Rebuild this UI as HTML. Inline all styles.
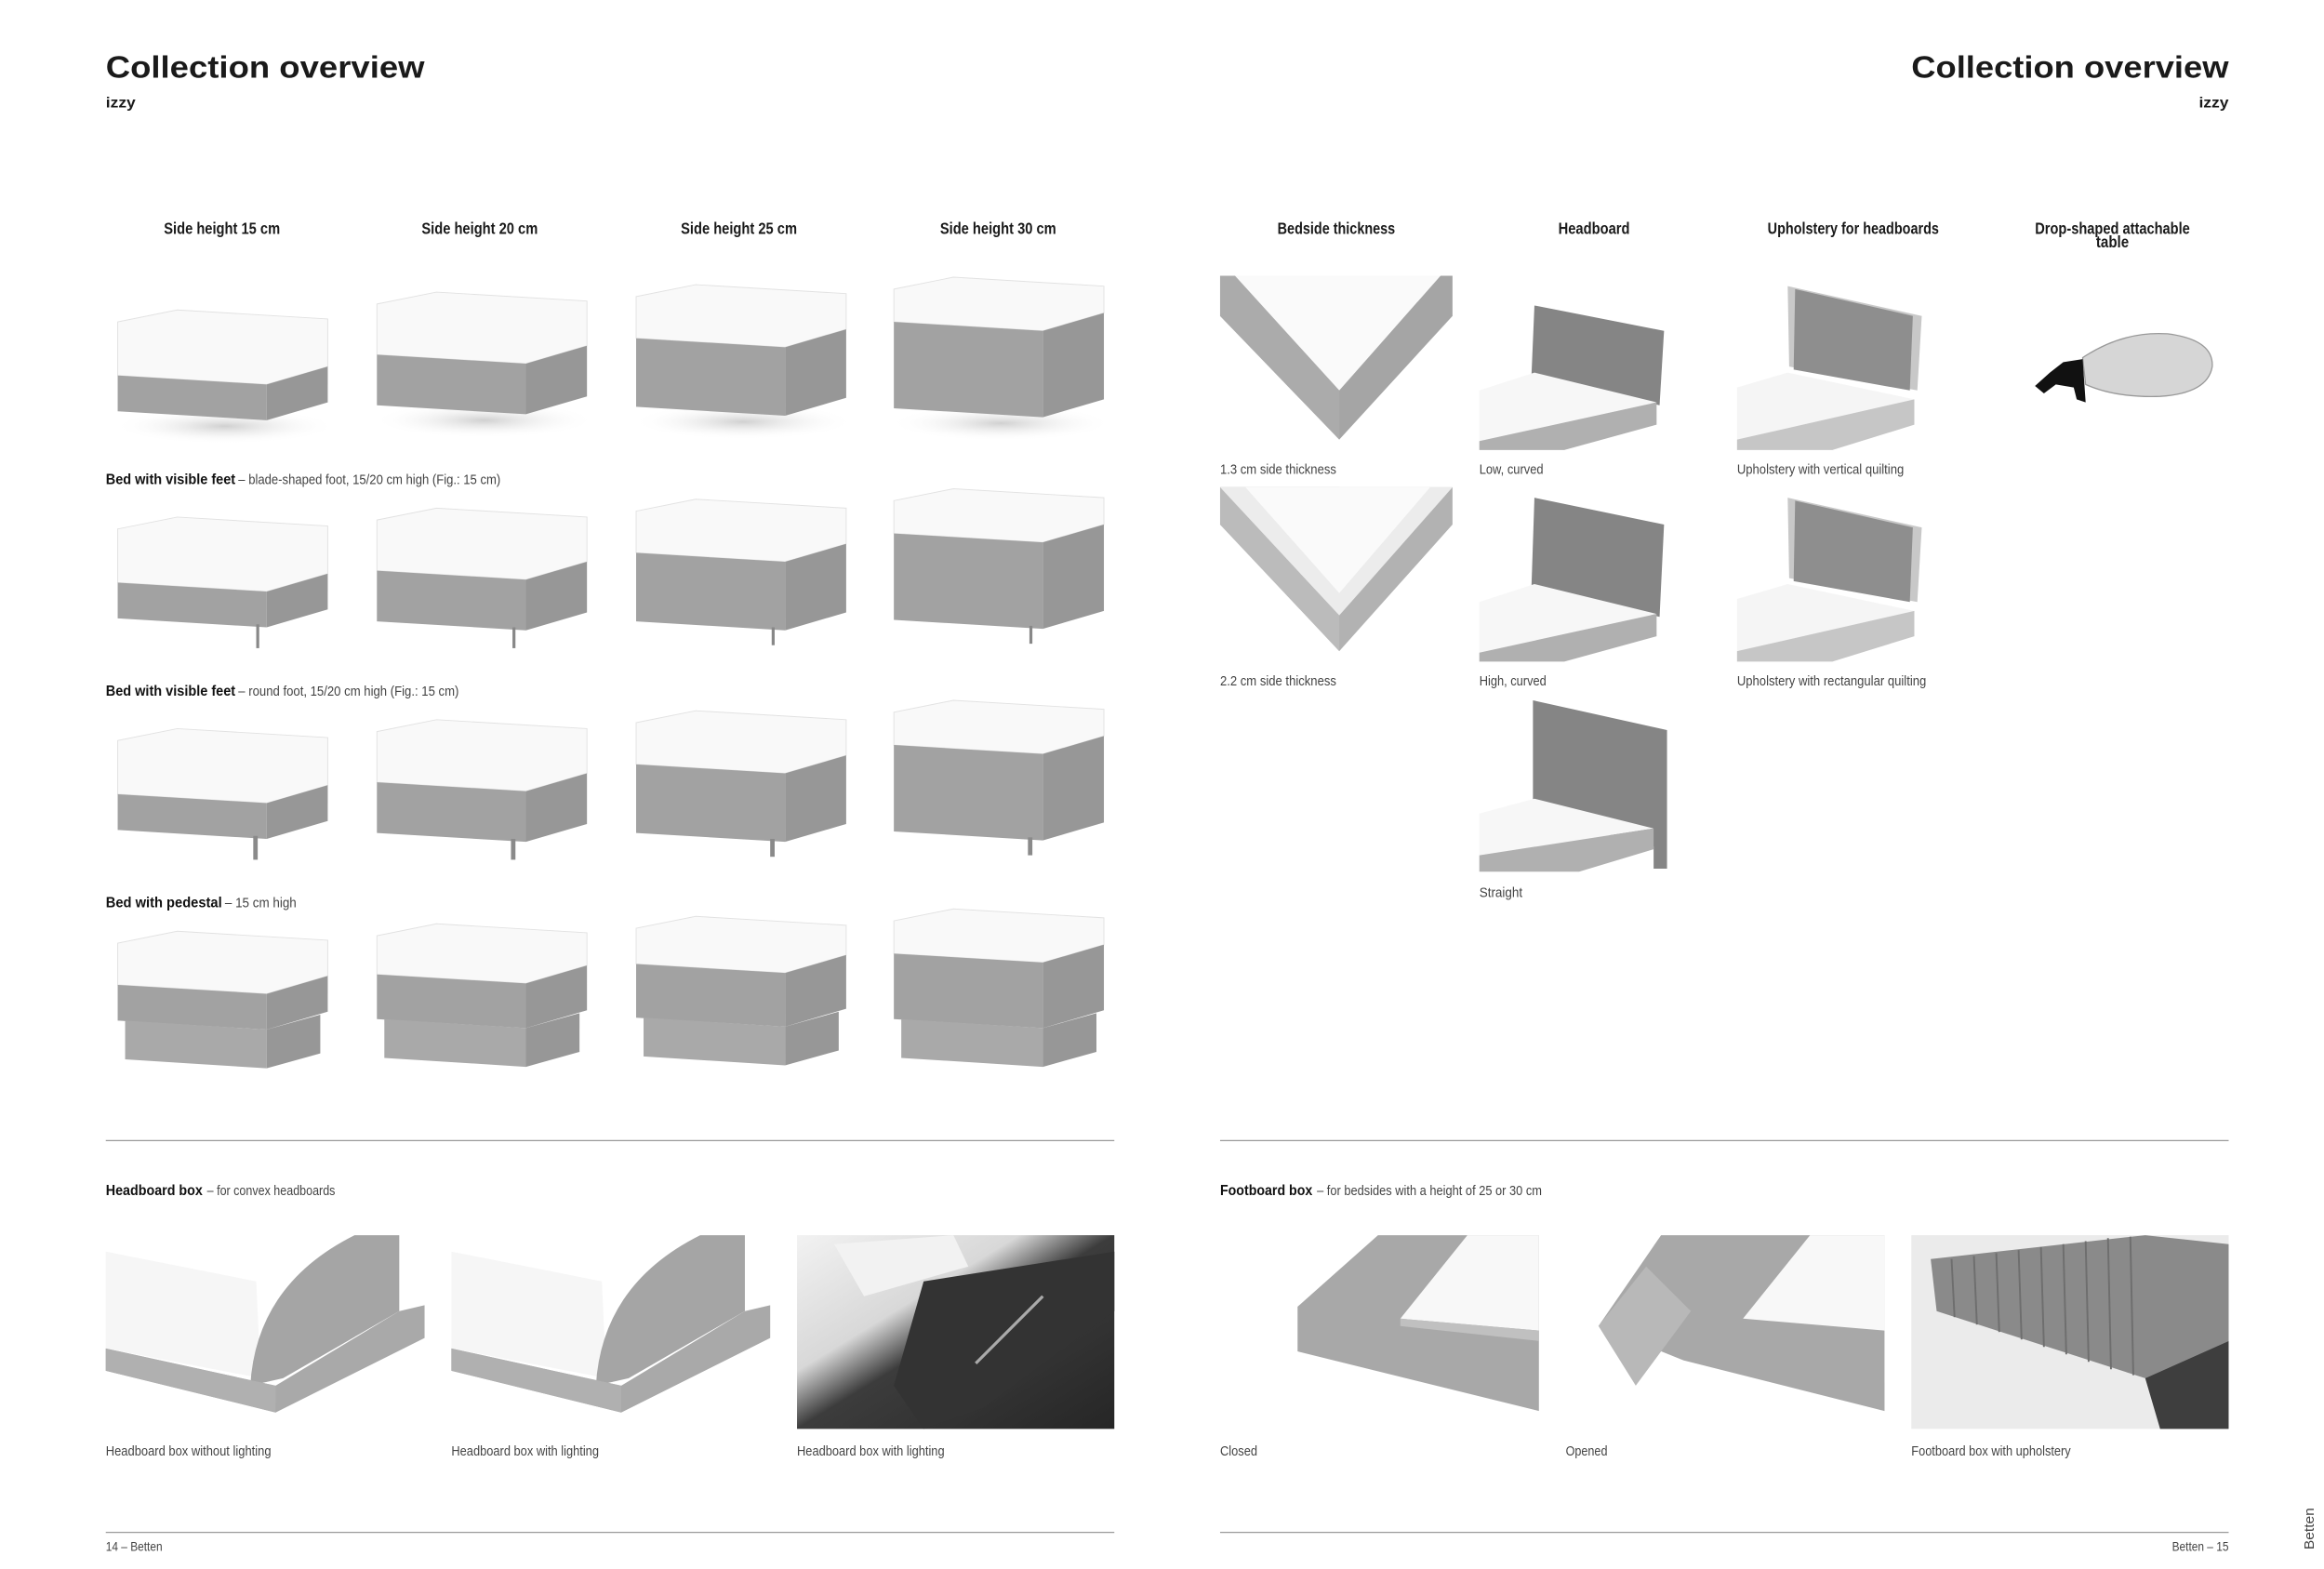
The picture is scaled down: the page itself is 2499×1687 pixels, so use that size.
<!DOCTYPE html>
<html><head><meta charset="utf-8"><style>
html,body{margin:0;padding:0;background:#fff;width:2499px;height:1687px;overflow:hidden}
svg{display:block}
text{font-family:"Liberation Sans Narrow","Liberation Sans",sans-serif;fill:#1a1a1a}
.h{font-size:11px;font-weight:bold;text-anchor:middle}
.c{font-size:9px;fill:#444}
.b{font-size:10px;font-weight:bold;fill:#111}
.w{fill:#f9f9f9;stroke:#e2e2e2;stroke-width:.6}
.g{fill:#a2a2a2}.gr{fill:#979797}.pl{fill:#a9a9a9}
</style></head><body>
<svg width="2499" height="1687" viewBox="0 0 1560 1053" xmlns="http://www.w3.org/2000/svg">
<defs>
<radialGradient id="sh"><stop offset="0" stop-color="#d0d0d0"/><stop offset="1" stop-color="#fff" stop-opacity="0"/></radialGradient>
<linearGradient id="ph" x1="0" y1="0" x2="1" y2="1"><stop offset="0" stop-color="#f2f2f2"/><stop offset=".35" stop-color="#d8d8d8"/><stop offset=".5" stop-color="#3c3c3c"/><stop offset="1" stop-color="#262626"/></linearGradient>
</defs>
<!-- titles -->
<text x="71" y="52" textLength="214" lengthAdjust="spacingAndGlyphs" style="font-family:'Liberation Sans',sans-serif;font-size:21px;font-weight:bold">Collection overview</text>
<text x="71" y="72" textLength="20" lengthAdjust="spacingAndGlyphs" style="font-family:'Liberation Sans',sans-serif;font-size:10px;font-weight:bold">izzy</text>
<text x="1283" y="52" textLength="213" lengthAdjust="spacingAndGlyphs" style="font-family:'Liberation Sans',sans-serif;font-size:21px;font-weight:bold">Collection overview</text>
<text x="1476" y="72" textLength="20" lengthAdjust="spacingAndGlyphs" style="font-family:'Liberation Sans',sans-serif;font-size:10px;font-weight:bold">izzy</text>
<!-- headers -->
<text class="h" x="149" y="157" textLength="78" lengthAdjust="spacingAndGlyphs">Side height 15 cm</text>
<text class="h" x="322" y="157" textLength="78" lengthAdjust="spacingAndGlyphs">Side height 20 cm</text>
<text class="h" x="496" y="157" textLength="78" lengthAdjust="spacingAndGlyphs">Side height 25 cm</text>
<text class="h" x="670" y="157" textLength="78" lengthAdjust="spacingAndGlyphs">Side height 30 cm</text>
<text class="h" x="897" y="157" textLength="79" lengthAdjust="spacingAndGlyphs">Bedside thickness</text>
<text class="h" x="1070" y="157" textLength="48" lengthAdjust="spacingAndGlyphs">Headboard</text>
<text class="h" x="1244" y="157" textLength="115" lengthAdjust="spacingAndGlyphs">Upholstery for headboards</text>
<text class="h" x="1418" y="157" textLength="104" lengthAdjust="spacingAndGlyphs">Drop-shaped attachable</text>
<text class="h" x="1418" y="166" textLength="22" lengthAdjust="spacingAndGlyphs">table</text>
<!-- row labels -->
<text class="b" x="71" y="325" textLength="87" lengthAdjust="spacingAndGlyphs">Bed with visible feet</text>
<text class="c" x="160" y="325" textLength="176" lengthAdjust="spacingAndGlyphs">– blade-shaped foot, 15/20 cm high (Fig.: 15 cm)</text>
<text class="b" x="71" y="467" textLength="87" lengthAdjust="spacingAndGlyphs">Bed with visible feet</text>
<text class="c" x="160" y="467" textLength="148" lengthAdjust="spacingAndGlyphs">– round foot, 15/20 cm high (Fig.: 15 cm)</text>
<text class="b" x="71" y="609" textLength="78" lengthAdjust="spacingAndGlyphs">Bed with pedestal</text>
<text class="c" x="151" y="609" textLength="48" lengthAdjust="spacingAndGlyphs">– 15 cm high</text>

<!-- Row 1 -->
<g transform="translate(79,208)"><ellipse cx="72" cy="78" rx="75" ry="12" fill="url(#sh)"/><polygon class="w" points="0,8 40,0 141,6 141,38 100,50 0,44"/><polygon class="g" points="0,44 100,50 100,74 0,68"/><polygon class="gr" points="100,50 141,38 141,62 100,74"/></g>
<g transform="translate(253,196)"><ellipse cx="72" cy="86" rx="75" ry="12" fill="url(#sh)"/><polygon class="w" points="0,8 40,0 141,6 141,36 100,48 0,42"/><polygon class="g" points="0,42 100,48 100,82 0,76"/><polygon class="gr" points="100,48 141,36 141,70 100,82"/></g>
<g transform="translate(427,191)"><ellipse cx="72" cy="92" rx="75" ry="12" fill="url(#sh)"/><polygon class="w" points="0,8 40,0 141,6 141,30 100,42 0,36"/><polygon class="g" points="0,36 100,42 100,88 0,82"/><polygon class="gr" points="100,42 141,30 141,76 100,88"/></g>
<g transform="translate(600,186)"><ellipse cx="72" cy="98" rx="75" ry="12" fill="url(#sh)"/><polygon class="w" points="0,8 40,0 141,6 141,24 100,36 0,30"/><polygon class="g" points="0,30 100,36 100,94 0,88"/><polygon class="gr" points="100,36 141,24 141,82 100,94"/></g>

<!-- Row 2 -->
<g transform="translate(79,347)"><polygon class="w" points="0,8 40,0 141,6 141,38 100,50 0,44"/><polygon class="g" points="0,44 100,50 100,74 0,68"/><polygon class="gr" points="100,50 141,38 141,62 100,74"/><rect x="93" y="72" width="2" height="16" fill="#888"/></g>
<g transform="translate(253,341)"><polygon class="w" points="0,8 40,0 141,6 141,36 100,48 0,42"/><polygon class="g" points="0,42 100,48 100,82 0,76"/><polygon class="gr" points="100,48 141,36 141,70 100,82"/><rect x="91" y="80" width="2" height="14" fill="#888"/></g>
<g transform="translate(427,335)"><polygon class="w" points="0,8 40,0 141,6 141,30 100,42 0,36"/><polygon class="g" points="0,36 100,42 100,88 0,82"/><polygon class="gr" points="100,42 141,30 141,76 100,88"/><rect x="91" y="86" width="2" height="12" fill="#888"/></g>
<g transform="translate(600,328)"><polygon class="w" points="0,8 40,0 141,6 141,24 100,36 0,30"/><polygon class="g" points="0,30 100,36 100,94 0,88"/><polygon class="gr" points="100,36 141,24 141,82 100,94"/><rect x="91" y="92" width="2" height="12" fill="#888"/></g>

<!-- Row 3 -->
<g transform="translate(79,489)"><polygon class="w" points="0,8 40,0 141,6 141,38 100,50 0,44"/><polygon class="g" points="0,44 100,50 100,74 0,68"/><polygon class="gr" points="100,50 141,38 141,62 100,74"/><rect x="91" y="72" width="3" height="16" fill="#8a8a8a"/></g>
<g transform="translate(253,483)"><polygon class="w" points="0,8 40,0 141,6 141,36 100,48 0,42"/><polygon class="g" points="0,42 100,48 100,82 0,76"/><polygon class="gr" points="100,48 141,36 141,70 100,82"/><rect x="90" y="80" width="3" height="14" fill="#8a8a8a"/></g>
<g transform="translate(427,477)"><polygon class="w" points="0,8 40,0 141,6 141,30 100,42 0,36"/><polygon class="g" points="0,36 100,42 100,88 0,82"/><polygon class="gr" points="100,42 141,30 141,76 100,88"/><rect x="90" y="86" width="3" height="12" fill="#8a8a8a"/></g>
<g transform="translate(600,470)"><polygon class="w" points="0,8 40,0 141,6 141,24 100,36 0,30"/><polygon class="g" points="0,30 100,36 100,94 0,88"/><polygon class="gr" points="100,36 141,24 141,82 100,94"/><rect x="90" y="92" width="3" height="12" fill="#8a8a8a"/></g>

<!-- Row 4 pedestal -->
<g transform="translate(79,625)"><polygon class="w" points="0,8 40,0 141,6 141,30 100,42 0,36"/><polygon class="g" points="0,36 100,42 100,66 0,60"/><polygon class="gr" points="100,42 141,30 141,54 100,66"/><polygon class="pl" points="5,60 100,66 100,92 5,86"/><polygon class="gr" points="100,66 136,56 136,82 100,92"/></g>
<g transform="translate(253,620)"><polygon class="w" points="0,8 40,0 141,6 141,28 100,40 0,34"/><polygon class="g" points="0,34 100,40 100,70 0,64"/><polygon class="gr" points="100,40 141,28 141,58 100,70"/><polygon class="pl" points="5,64 100,70 100,96 5,90"/><polygon class="gr" points="100,70 136,60 136,86 100,96"/></g>
<g transform="translate(427,615)"><polygon class="w" points="0,8 40,0 141,6 141,26 100,38 0,32"/><polygon class="g" points="0,32 100,38 100,74 0,68"/><polygon class="gr" points="100,38 141,26 141,62 100,74"/><polygon class="pl" points="5,68 100,74 100,100 5,94"/><polygon class="gr" points="100,74 136,64 136,90 100,100"/></g>
<g transform="translate(600,610)"><polygon class="w" points="0,8 40,0 141,6 141,24 100,36 0,30"/><polygon class="g" points="0,30 100,36 100,80 0,74"/><polygon class="gr" points="100,36 141,24 141,68 100,80"/><polygon class="pl" points="5,74 100,80 100,106 5,100"/><polygon class="gr" points="100,80 136,70 136,96 100,106"/></g>

<!-- Bedside thickness -->
<polygon points="819,185 975,185 975,212 899,295 819,212" fill="#a5a5a5"/>
<polygon points="819,185 899,185 899,295 819,212" fill="#ababab"/>
<polygon points="829,185 967,185 899,262" fill="#fafafa"/>
<text class="c" x="819" y="318" textLength="78" lengthAdjust="spacingAndGlyphs">1.3 cm side thickness</text>
<polygon points="819,327 975,327 975,352 899,437 819,352" fill="#b2b2b2"/>
<polygon points="819,327 899,327 899,437 819,352" fill="#bbbbbb"/>
<polygon points="819,327 975,327 899,413" fill="#ececec"/>
<polygon points="836,327 960,327 899,398" fill="#fafafa"/>
<text class="c" x="819" y="460" textLength="78" lengthAdjust="spacingAndGlyphs">2.2 cm side thickness</text>

<!-- Headboards -->
<g>
<polygon points="1030,205 1117,222 1114,272 1028,252" fill="#858585"/>
<polygon points="993,262 1030,250 1112,270 993,296" fill="#f7f7f7"/>
<polygon points="993,296 1112,270 1112,285 1050,302 993,302" fill="#b0b0b0"/>
<text class="c" x="993" y="318" textLength="43" lengthAdjust="spacingAndGlyphs">Low, curved</text>
<polygon points="1030,334 1117,352 1114,414 1028,394" fill="#858585"/>
<polygon points="993,404 1030,392 1112,412 993,438" fill="#f7f7f7"/>
<polygon points="993,438 1112,412 1112,427 1050,444 993,444" fill="#b0b0b0"/>
<text class="c" x="993" y="460" textLength="45" lengthAdjust="spacingAndGlyphs">High, curved</text>
<polygon points="1029,470 1119,490 1119,583 1110,583 1110,568 1029,548" fill="#858585"/>
<polygon points="993,546 1030,536 1110,556 993,574" fill="#f7f7f7"/>
<polygon points="993,574 1110,556 1110,570 1060,585 993,585" fill="#b0b0b0"/>
<text class="c" x="993" y="602" textLength="29" lengthAdjust="spacingAndGlyphs">Straight</text>
</g>
<!-- Upholstery -->
<g>
<polygon points="1200,192 1290,212 1287,262 1201,246" fill="#c8c8c8"/>
<polygon points="1205,194 1284,212 1282,262 1204,248" fill="#8e8e8e"/>
<polygon points="1166,260 1200,250 1285,268 1166,295" fill="#f5f5f5"/>
<polygon points="1166,295 1285,268 1285,285 1230,302 1166,302" fill="#c6c6c6"/>
<text class="c" x="1166" y="318" textLength="112" lengthAdjust="spacingAndGlyphs">Upholstery with vertical quilting</text>
<polygon points="1200,334 1290,354 1287,404 1201,388" fill="#c8c8c8"/>
<polygon points="1205,336 1284,354 1282,404 1204,390" fill="#8e8e8e"/>
<polygon points="1166,402 1200,392 1285,410 1166,437" fill="#f5f5f5"/>
<polygon points="1166,437 1285,410 1285,427 1230,444 1166,444" fill="#c6c6c6"/>
<text class="c" x="1166" y="460" textLength="127" lengthAdjust="spacingAndGlyphs">Upholstery with rectangular quilting</text>
</g>
<!-- table -->
<path d="M1398,240 Q1425,222 1455,224 Q1486,228 1485,246 Q1482,264 1450,266 Q1420,267 1400,258 Z" fill="#d6d6d6" stroke="#999" stroke-width=".8"/>
<polygon points="1385,243 1398,241 1400,270 1394,268 1392,260 1380,258 1372,264 1366,259 1376,250" fill="#111"/>

<!-- lines -->
<line x1="71" y1="765.5" x2="748" y2="765.5" stroke="#999" stroke-width=".8"/>
<line x1="819" y1="765.5" x2="1496" y2="765.5" stroke="#999" stroke-width=".8"/>
<line x1="71" y1="1028.5" x2="748" y2="1028.5" stroke="#999" stroke-width=".8"/>
<line x1="819" y1="1028.5" x2="1496" y2="1028.5" stroke="#999" stroke-width=".8"/>

<text class="b" x="71" y="802" textLength="65" lengthAdjust="spacingAndGlyphs">Headboard box</text>
<text class="c" x="139" y="802" textLength="86" lengthAdjust="spacingAndGlyphs">– for convex headboards</text>
<text class="b" x="819" y="802" textLength="62" lengthAdjust="spacingAndGlyphs">Footboard box</text>
<text class="c" x="884" y="802" textLength="151" lengthAdjust="spacingAndGlyphs">– for bedsides with a height of 25 or 30 cm</text>

<!-- headboard box images -->
<g>
<polygon points="71,840 172,860 175,925 71,905" fill="#f6f6f6"/>
<path d="M168,930 Q172,862 238,829 L268,829 L268,880 L190,925 Z" fill="#a5a5a5"/>
<polygon points="71,905 185,930 268,880 285,876 285,898 185,948 71,920" fill="#a9a9a9"/>
<polygon points="71,905 185,930 185,948 71,920" fill="#b0b0b0"/>
<text class="c" x="71" y="977" textLength="111" lengthAdjust="spacingAndGlyphs">Headboard box without lighting</text>
<polygon points="303,840 404,860 407,925 303,905" fill="#f6f6f6"/>
<path d="M400,930 Q404,862 470,829 L500,829 L500,880 L422,925 Z" fill="#a5a5a5"/>
<polygon points="303,905 417,930 500,880 517,876 517,898 417,948 303,920" fill="#a9a9a9"/>
<polygon points="303,905 417,930 417,948 303,920" fill="#b0b0b0"/>
<text class="c" x="303" y="977" textLength="99" lengthAdjust="spacingAndGlyphs">Headboard box with lighting</text>
<rect x="535" y="829" width="213" height="130" fill="url(#ph)"/>
<polygon points="620,860 748,840 748,880 660,945 620,959 600,930" fill="#333"/>
<line x1="655" y1="915" x2="700" y2="870" stroke="#aaa" stroke-width="2"/>
<polygon points="560,835 640,829 650,850 580,870" fill="#f2f2f2"/>
<text class="c" x="535" y="977" textLength="99" lengthAdjust="spacingAndGlyphs">Headboard box with lighting</text>
</g>
<!-- footboard images -->
<g>
<polygon points="871,877 925,829 1033,829 1033,947 871,907" fill="#a8a8a8"/>
<polygon points="940,885 985,829 1033,829 1033,893" fill="#f8f8f8"/>
<polygon points="940,885 1033,893 1033,900 940,890" fill="#c0c0c0"/>
<text class="c" x="819" y="977" textLength="25" lengthAdjust="spacingAndGlyphs">Closed</text>
<polygon points="1073,890 1115,829 1265,829 1265,947 1130,913" fill="#a8a8a8"/>
<polygon points="1073,890 1105,850 1135,880 1098,930" fill="#b8b8b8"/>
<polygon points="1170,885 1215,829 1265,829 1265,893" fill="#f8f8f8"/>
<text class="c" x="1051" y="977" textLength="28" lengthAdjust="spacingAndGlyphs">Opened</text>
<rect x="1283" y="829" width="213" height="130" fill="#ebebeb"/>
<polygon points="1296,845 1440,829 1496,835 1496,900 1440,925 1300,880" fill="#8a8a8a"/>
<polygon points="1440,925 1496,900 1496,959 1450,959" fill="#3e3e3e"/>
<g stroke="#6e6e6e" stroke-width="1.2">
<line x1="1310" y1="845" x2="1312" y2="884"/><line x1="1325" y1="843" x2="1327" y2="889"/><line x1="1340" y1="841" x2="1342" y2="894"/><line x1="1355" y1="839" x2="1357" y2="899"/><line x1="1370" y1="837" x2="1372" y2="904"/><line x1="1385" y1="835" x2="1387" y2="909"/><line x1="1400" y1="833" x2="1402" y2="914"/><line x1="1415" y1="831" x2="1417" y2="919"/><line x1="1430" y1="830" x2="1432" y2="923"/></g>
<text class="c" x="1283" y="977" textLength="107" lengthAdjust="spacingAndGlyphs">Footboard box with upholstery</text>
</g>

<!-- footer -->
<text class="c" x="71" y="1041" textLength="38" lengthAdjust="spacingAndGlyphs" style="font-size:8.5px">14 – Betten</text>
<text class="c" x="1458" y="1041" textLength="38" lengthAdjust="spacingAndGlyphs" style="font-size:8.5px">Betten – 15</text>
<text class="c" transform="translate(1553,1040) rotate(-90)" textLength="28" lengthAdjust="spacingAndGlyphs" style="font-size:9px">Betten</text>
</svg>
</body></html>
